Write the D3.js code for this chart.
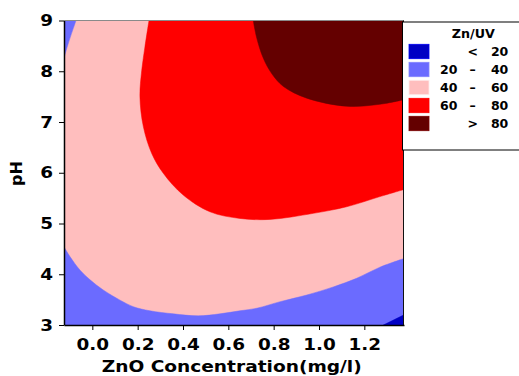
<!DOCTYPE html>
<html><head><meta charset="utf-8">
<script src="https://cdn.jsdelivr.net/npm/d3@7"></script>
<style>
html,body{margin:0;padding:0;background:#fff;}
svg{display:block;font-family:"DejaVu Sans",Verdana,sans-serif;font-weight:bold;}
</style></head>
<body>
<svg id="c" width="519" height="376"></svg>
<script>
// ---- data ----
const xDomain = [-0.125, 1.375];
const yDomain = [3, 9];
const xTicks = [0.0, 0.2, 0.4, 0.6, 0.8, 1.0, 1.2];
const yTicks = [3, 4, 5, 6, 7, 8, 9];
const legendTitle = "Zn/UV";
const legendLeft  = ["", "20", "40", "60", ""];
const legendMid   = ["<", "–", "–", "–", ">"];
const legendRight = ["20", "40", "60", "80", "80"];
const levelColors = ["#0000c4", "#6b6bff", "#ffbebe", "#ff0000", "#640000"];

// contour line 40 (upper-left corner)
const c40TopLeft = [[-0.072, 9], [-0.106, 8.55], [-0.125, 8.26]];
// contour line 40 (bottom)
const c40Bottom = [[-0.125, 4.54], [-0.099, 4.35], [-0.054, 4.08], [-0.010, 3.89], [0.048, 3.69],
  [0.122, 3.49], [0.181, 3.36], [0.254, 3.28], [0.357, 3.22], [0.467, 3.18], [0.563, 3.22],
  [0.651, 3.28], [0.725, 3.33], [0.829, 3.46], [0.946, 3.59], [1.063, 3.75], [1.166, 3.92],
  [1.269, 4.14], [1.375, 4.31]];
// contour line 20 (bottom-right corner)
const c20 = [[1.284, 3], [1.375, 3.20]];
// contour line 60
const c60 = [[0.250, 9], [0.232, 8.48], [0.218, 8.02], [0.210, 7.50], [0.225, 6.91], [0.262, 6.38],
  [0.313, 5.99], [0.401, 5.56], [0.519, 5.23], [0.651, 5.10], [0.783, 5.08], [0.975, 5.20],
  [1.122, 5.33], [1.269, 5.53], [1.375, 5.67]];
// contour line 80
const c80 = [[0.710, 9], [0.725, 8.66], [0.754, 8.26], [0.792, 7.95], [0.843, 7.70], [0.946, 7.47],
  [1.122, 7.31], [1.269, 7.35], [1.375, 7.44]];

// ---- drawing ----
const svg = d3.select("#c");
const x = d3.scaleLinear(xDomain, [64, 404]);
const y = d3.scaleLinear(yDomain, [325, 20.5]);

svg.append("defs").append("clipPath").attr("id", "plotclip")
  .append("rect").attr("x", x(xDomain[0])).attr("y", y(yDomain[1]))
  .attr("width", x(xDomain[1]) - x(xDomain[0])).attr("height", y(yDomain[0]) - y(yDomain[1]));

const g = svg.append("g").attr("clip-path", "url(#plotclip)");

// base band 40-60
g.append("rect").attr("x", x(xDomain[0])).attr("y", y(yDomain[1]))
  .attr("width", x(xDomain[1]) - x(xDomain[0])).attr("height", y(yDomain[0]) - y(yDomain[1]))
  .attr("fill", levelColors[2]);

function region(pts, corners, color) {
  const p = d3.path();
  d3.line().x(d => x(d[0])).y(d => y(d[1])).curve(d3.curveCatmullRom).context(p)(pts);
  corners.forEach(c => p.lineTo(x(c[0]), y(c[1])));
  p.closePath();
  g.append("path").attr("d", p.toString()).attr("fill", color)
    .attr("stroke", color).attr("stroke-width", 0.5);
}

region(c40Bottom, [[xDomain[1], yDomain[0]], [xDomain[0], yDomain[0]]], levelColors[1]);
region(c40TopLeft, [[xDomain[0], yDomain[1]]], levelColors[1]);
region(c20, [[xDomain[1], yDomain[0]]], levelColors[0]);
region(c60, [[xDomain[1], yDomain[1]]], levelColors[3]);
region(c80, [[xDomain[1], yDomain[1]]], levelColors[4]);

// frame: top (grey) and right
svg.append("line").attr("x1", 64).attr("x2", 404).attr("y1", 20.5).attr("y2", 20.5)
  .attr("stroke", "#8a8a8a").attr("stroke-width", 1);
svg.append("line").attr("x1", 403.5).attr("x2", 403.5).attr("y1", 20.5).attr("y2", 325)
  .attr("stroke", "#111").attr("stroke-width", 1);

// axes
const sx = 1.15;
const xAxis = svg.append("g").attr("transform", "translate(0,325)")
  .call(d3.axisBottom(x).tickValues(xTicks).tickFormat(d3.format(".1f")).tickSize(5).tickPadding(9).tickSizeOuter(0));
const yAxis = svg.append("g").attr("transform", "translate(64,0)")
  .call(d3.axisLeft(y).tickValues(yTicks).tickFormat(d3.format("d")).tickSize(5).tickPadding(6).tickSizeOuter(0));
[xAxis, yAxis].forEach(a => {
  a.select(".domain").attr("stroke", "#000").attr("stroke-width", 1.5);
  a.selectAll(".tick line").attr("stroke", "#000").attr("stroke-width", 1);
  a.selectAll(".tick text").attr("font-size", 16).attr("font-weight", "bold")
    .attr("font-family", '"DejaVu Sans",Verdana,sans-serif').attr("fill", "#000");
});
xAxis.selectAll(".tick text").attr("transform", `scale(${sx},1)`);
yAxis.selectAll(".tick text").attr("x", -11 / sx).attr("transform", `scale(${sx},1)`);

// axis titles
svg.append("text").attr("x", 231.7).attr("y", 371.5).attr("text-anchor", "middle")
  .attr("font-size", 16).attr("textLength", 260).attr("lengthAdjust", "spacingAndGlyphs")
  .text("ZnO Concentration(mg/l)");
svg.append("text").attr("transform", "translate(22,173.5) rotate(-90)").attr("text-anchor", "middle")
  .attr("font-size", 16).text("pH");

// legend
const lg = svg.append("g");
lg.append("rect").attr("x", 402.5).attr("y", 22).attr("width", 130).attr("height", 128)
  .attr("fill", "#fff").attr("stroke", "#000").attr("stroke-width", 1);
lg.append("text").attr("x", 473.3).attr("y", 38).attr("text-anchor", "middle")
  .attr("font-size", 12).attr("textLength", 43).attr("lengthAdjust", "spacingAndGlyphs").text(legendTitle);
levelColors.forEach((c, i) => {
  const yy = 44.3 + i * 18;
  lg.append("rect").attr("x", 409).attr("y", yy).attr("width", 20).attr("height", 14.4)
    .attr("fill", c).attr("stroke", d3.color(c).brighter(0.6)).attr("stroke-width", 0.8);
  const by = 56.2 + i * 18.07;
  lg.append("text").attr("x", 457.5).attr("y", by).attr("text-anchor", "end").attr("font-size", 12.5).text(legendLeft[i]);
  lg.append("text").attr("x", 472.7).attr("y", by).attr("text-anchor", "middle").attr("font-size", 12.5).text(legendMid[i]);
  lg.append("text").attr("x", 508.3).attr("y", by).attr("text-anchor", "end").attr("font-size", 12.5).text(legendRight[i]);
});
</script>
</body></html>
